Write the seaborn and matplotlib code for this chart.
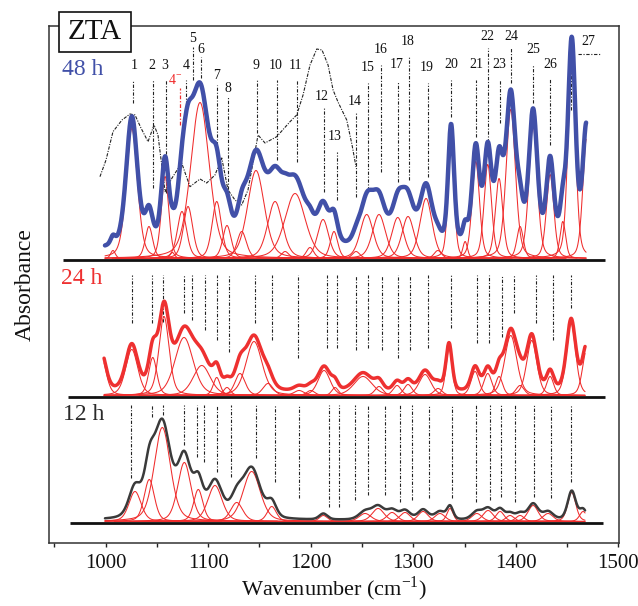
import numpy as np
import pandas as pd
import matplotlib
matplotlib.use("Agg")
import matplotlib.pyplot as plt
import seaborn as sns
from matplotlib.patches import Rectangle

# ---------------- fitted bands: centre (cm-1), height, FWHM (cm-1) ----------------
c48 = [1007.1, 1025.5, 1042.2, 1057.9, 1065.0, 1074.4, 1080.3, 1092.0, 1108.3, 1118.3,
       1132.7, 1146.6, 1165.2, 1175.0, 1184.7, 1199.3, 1212.0, 1222.7, 1244.2, 1254.6,
       1266.6, 1284.9, 1294.9, 1312.5, 1324.0, 1336.9, 1350.6, 1361.0, 1372.7, 1383.7,
       1395.1, 1404.2, 1416.9, 1433.5, 1445.9, 1454.6, 1469.0]
h48 = [8, 130, 32, 82, 6, 47, 52, 156, 57, 33,
       27, 88, 57, 7, 65, 11, 39, 27, 7, 44,
       44, 41, 42, 60, 8, 120, 17, 97, 94, 80,
       149, 32, 133, 84, 37, 205, 120]
w48 = [5.4, 12.9, 8.6, 8.6, 5.4, 10.8, 10.8, 21.5, 10.8, 9.7,
       10.8, 19.4, 17.2, 8.6, 23.7, 8.6, 12.9, 8.6, 8.6, 15.1,
       15.1, 14.0, 14.0, 14.0, 8.6, 6.9, 5.4, 8.6, 8.6, 8.6,
       10.8, 7.5, 9.7, 8.6, 6.5, 8.6, 8.6]

c24 = [995.0, 1025.4, 1045.9, 1056.9, 1076.4, 1093.7, 1108.3, 1118.3, 1131.0, 1144.7,
       1158.3, 1188.6, 1200.0, 1213.0, 1223.7, 1251.0, 1266.6, 1284.2, 1294.9, 1311.5,
       1324.2, 1334.9, 1360.3, 1372.7, 1383.7, 1395.1, 1404.2, 1415.6, 1433.5, 1454.0,
       1469.0]
h24 = [42, 46, 38, 79, 58, 30, 18, 8, 22, 54,
       12, 5, 5, 25, 8, 19, 9, 10, 11, 21,
       7, 48, 24, 22, 19, 60, 10, 55, 19, 72,
       45]
w24 = [11.8, 14.0, 9.4, 11.8, 21.1, 19.9, 8.0, 8.0, 11.8, 18.7,
       11.8, 11.8, 9.4, 14.0, 7.5, 21.1, 9.4, 9.4, 9.4, 14.0,
       9.4, 7.1, 9.4, 9.4, 8.2, 14.0, 9.4, 11.8, 8.2, 10.6,
       9.4]

c12 = [1028.6, 1042.5, 1055.2, 1076.7, 1090.3, 1106.6, 1127.8, 1142.4, 1162.0, 1212.3,
       1253.0, 1265.7, 1279.3, 1292.0, 1309.6, 1326.0, 1335.9, 1362.0, 1373.0, 1384.7,
       1394.4, 1404.2, 1416.9, 1431.5, 1454.6, 1465.7]
h12 = [30, 42, 94, 59, 32, 36, 19, 50, 15, 6,
       8, 13, 9, 9, 10, 8, 13, 8, 11, 10,
       6, 6, 16, 8, 29, 10]
w12 = [14.0, 11.8, 18.7, 15.2, 10.6, 16.4, 14.0, 19.9, 10.6, 9.4,
       14.0, 14.0, 11.8, 11.8, 11.8, 11.8, 7.1, 11.8, 11.8, 9.4,
       9.4, 9.4, 11.8, 11.8, 9.4, 8.2]

# vertical offsets of the three stacked spectra and their background levels
base48, base24, base12 = 282.7, 145.7, 19.7
bg48, bg24, bg12 = 10.0, 4.0, 2.5

# reference spectrum drawn dashed in the 48 h panel
ref_w = [994.4, 1000.3, 1007.1, 1015.9, 1023.7, 1028.6, 1034.4, 1041.3, 1047.1, 1051.0,
         1057.9, 1064.7, 1074.1, 1082.2, 1092.0, 1098.5, 1106.6, 1113.2, 1119.3, 1126.1,
         1132.7, 1138.8, 1148.6, 1155.4, 1166.8, 1179.8, 1186.3, 1192.5, 1199.3, 1205.9,
         1211.0, 1216.9, 1221.8, 1226.6, 1235.1, 1240.3, 1244.2]
ref_y = [366.0, 382.7, 411.0, 422.7, 428.7, 427.7, 414.7, 401.0, 417.7, 407.7,
         351.0, 364.7, 379.7, 356.0, 363.7, 359.7, 367.7, 384.7, 352.7, 342.7,
         337.7, 352.7, 407.7, 399.7, 406.0, 421.0, 427.7, 447.7, 477.7, 493.7,
         492.7, 477.7, 452.7, 440.7, 422.7, 397.7, 375.7]

# band assignments
peak_labels = ["1", "2", "3", "4", "5", "6", "7", "8", "9", "10", "11", "12", "13", "14",
               "15", "16", "17", "18", "19", "20", "21", "22", "23", "24", "25", "26", "27"]
label_x = [1027.6, 1045.2, 1057.9, 1078.3, 1085.2, 1093.0, 1108.6, 1119.3, 1146.6, 1166.1,
           1184.7, 1211.0, 1223.7, 1243.2, 1255.9, 1268.6, 1284.2, 1294.9, 1313.5, 1336.9,
           1361.3, 1372.0, 1383.7, 1395.4, 1416.9, 1433.5, 1470.5]
label_y = [476.7, 476.7, 476.7, 476.7, 503.7, 492.7, 466.7, 453.7, 476.7, 476.7,
           476.7, 445.7, 405.7, 440.7, 474.7, 492.7, 477.7, 500.7, 474.7, 477.7,
           477.7, 505.7, 477.7, 505.7, 492.7, 477.7, 500.7]

# marker lines under each label in the 48 h panel
mk48_x = [1026.9, 1046.4, 1058.8, 1078.0, 1085.5, 1093.0, 1108.3, 1119.0, 1147.3, 1166.8,
          1186.6, 1213.0, 1225.4, 1244.2, 1255.6, 1268.3, 1284.9, 1296.2, 1314.1, 1336.9,
          1361.0, 1372.7, 1385.0, 1395.4, 1416.6, 1433.5, 1454.0]
mk48_top = [462.7, 462.7, 462.7, 462.7, 495.7, 485.7, 457.7, 445.7, 462.7, 462.7,
            462.7, 434.7, 390.7, 429.7, 459.7, 477.7, 460.7, 485.7, 459.7, 462.7,
            462.7, 494.7, 462.7, 494.7, 477.7, 464.7, 487.7]
mk48_bot = [439.7, 354.7, 349.7, 430.7, 462.7, 464.7, 397.7, 345.7, 409.7, 382.7,
            380.7, 350.7, 342.7, 345.7, 352.7, 370.7, 360.7, 362.7, 365.7, 425.7,
            405.7, 400.7, 419.7, 459.7, 439.7, 397.7, 432.7]

mk24_x = [1025.4, 1045.5, 1056.2, 1076.7, 1083.9, 1096.9, 1108.9, 1120.6, 1145.7, 1162.5,
          1187.9, 1215.6, 1225.4, 1244.2, 1255.6, 1269.3, 1284.9, 1296.9, 1314.1, 1336.9,
          1362.0, 1374.2, 1386.3, 1398.6, 1419.8, 1436.1, 1454.0]
mk24_bot = [219.7, 219.7, 220.7, 229.7, 222.7, 212.7, 202.7, 190.7, 219.7, 202.7,
            184.7, 194.7, 194.7, 192.7, 194.7, 192.7, 184.7, 192.7, 194.7, 214.7,
            199.7, 199.7, 205.7, 229.7, 219.7, 202.7, 234.7]
mk24_top = 267.7

mk12_x = [1024.7, 1044.9, 1055.6, 1076.4, 1089.4, 1096.2, 1108.3, 1122.0, 1146.3, 1165.2,
          1188.9, 1218.1, 1227.9, 1243.2, 1255.6, 1272.5, 1287.4, 1298.8, 1315.1, 1337.6,
          1361.0, 1374.6, 1385.9, 1399.0, 1417.9, 1434.7, 1454.2]
mk12_bot = [64.7, 125.7, 127.7, 97.7, 85.7, 80.7, 70.7, 65.7, 84.7, 60.7,
            44.7, 35.7, 35.7, 42.7, 47.7, 47.7, 40.7, 42.7, 44.7, 44.7,
            40.7, 42.7, 45.7, 40.7, 45.7, 44.7, 60.7]
mk12_top = 137.7

ETA = 0.35  # Lorentzian fraction of the pseudo-Voigt band shape


def band(x, c, h, fw):
    g = np.exp(-4 * np.log(2) * ((x - c) / fw) ** 2)
    lo = 1.0 / (1.0 + 4 * ((x - c) / fw) ** 2)
    return h * (ETA * lo + (1 - ETA) * g)


def spectrum(cs, hs, ws, base, bg, lo, hi, name):
    x = np.linspace(lo, hi, 1400)
    comps, total = [], np.full_like(x, bg)
    for i, (c, h, fw) in enumerate(zip(cs, hs, ws)):
        y = band(x, c, h, fw)
        total += y
        m = (x > c - 6 * fw) & (x < c + 6 * fw)
        comps.append(pd.DataFrame({"w": x[m], "y": base + 1.5 + y[m], "comp": f"{name}{i}"}))
    env = pd.DataFrame({"w": x, "y": base + total})
    return pd.concat(comps, ignore_index=True), env


sns.set_theme(style="white", rc={"axes.edgecolor": "#222222"})
plt.rcParams["font.family"] = ["Liberation Serif", "DejaVu Serif"]
plt.rcParams["mathtext.fontset"] = "custom"
plt.rcParams["mathtext.rm"] = "Liberation Serif"

fig = plt.figure(figsize=(6.38, 6.06), dpi=100)
ax = fig.add_axes([0.0773, 0.1045, 0.8934, 0.8526])

RED = "#f02c2c"
BLUE = "#4150a8"

# baselines
ax.hlines([base48, base24, base12], [958.3, 963.2, 965.2], [1487.1, 1487.1, 1485.2],
          color="#111111", lw=2.0, zorder=2)

specs = [(c48, h48, w48, base48, bg48, 999.3, 1468.6, "a", BLUE, 3.2),
         (c24, h24, w24, base24, bg24, 998.4, 1467.6, "b", "#ee3030", 2.5),
         (c12, h12, w12, base12, bg12, 999.3, 1467.6, "c", "#3a3a3a", 1.8)]
for cs, hs, ws, base, bg, lo, hi, nm, col, lw in specs:
    comps, env = spectrum(cs, hs, ws, base, bg, lo, hi, nm)
    sns.lineplot(data=comps, x="w", y="y", units="comp", estimator=None, sort=False,
                 color=RED, lw=0.75, ax=ax, zorder=3)
    sns.lineplot(data=env, x="w", y="y", estimator=None, sort=False,
                 color=col, lw=lw, ax=ax, zorder=4)

# dashed reference spectrum
ref = pd.DataFrame({"w": ref_w, "y": ref_y})
sns.lineplot(data=ref, x="w", y="y", estimator=None, sort=False, color="#222222",
             lw=0.8, ls=(0, (3, 1.2, 1, 1.2)), ax=ax, zorder=3)

dd = (0, (3, 1.5, 1, 1.5))
ax.vlines(mk48_x, mk48_bot, mk48_top, color="#222222", lw=0.8, linestyles=[dd], zorder=2)
ax.vlines(mk24_x, mk24_bot, mk24_top, color="#222222", lw=0.8, linestyles=[dd], zorder=2)
ax.vlines(mk12_x, mk12_bot, mk12_top, color="#222222", lw=0.8, linestyles=[dd], zorder=2)
ax.vlines([1072.5], [417.7], [454.7], color=RED, lw=0.9, linestyles=[dd], zorder=2)
ax.hlines([488.7], [1460.8], [1482.2], color="#222222", lw=0.8, linestyles=[dd], zorder=2)

for t, x, y in zip(peak_labels, label_x, label_y):
    ax.text(x, y, t, ha="center", va="center", fontsize=10, color="#111111")
ax.text(1067.6, 462.7, r"4$^{-}$", ha="center", va="center", fontsize=10, color=RED)

ax.text(978, 472.7, "48 h", ha="center", va="center", fontsize=17, color=BLUE)
ax.text(977, 263.7, "24 h", ha="center", va="center", fontsize=17, color="#ee3030")
ax.text(979, 127.7, "12 h", ha="center", va="center", fontsize=17, color="#2a2a2a")

# sample tag
ax.add_patch(Rectangle((954.4, 490.4), 70.0, 40.6, facecolor="white", edgecolor="#111111",
                       lw=1.2, clip_on=False, zorder=10))
ax.text(989.4, 510.7, "ZTA", ha="center", va="center", fontsize=21, color="#111111",
        zorder=11, clip_on=False)

ax.set_xlim(945, 1501)
ax.set_ylim(0, 516.7)
ax.set_yticks([])
ax.set_xticks([1000, 1100, 1200, 1300, 1400, 1500])
ax.set_xticks(np.arange(950, 1500, 50), minor=True)
ax.tick_params(axis="x", which="both", direction="out", length=3.2, width=1.0,
               colors="#222222", labelsize=15, pad=5, bottom=True)
ax.tick_params(axis="x", which="major", labelcolor="#111111")
for s in ax.spines.values():
    s.set_linewidth(1.1)
    s.set_color("#333333")
ax.set_xlabel("Wavenumber (cm$^{-1}$)", fontsize=16, color="#111111", labelpad=1)
ax.set_ylabel("Absorbance", fontsize=17, color="#111111", labelpad=10)

fig.savefig("out.png", dpi=100)
